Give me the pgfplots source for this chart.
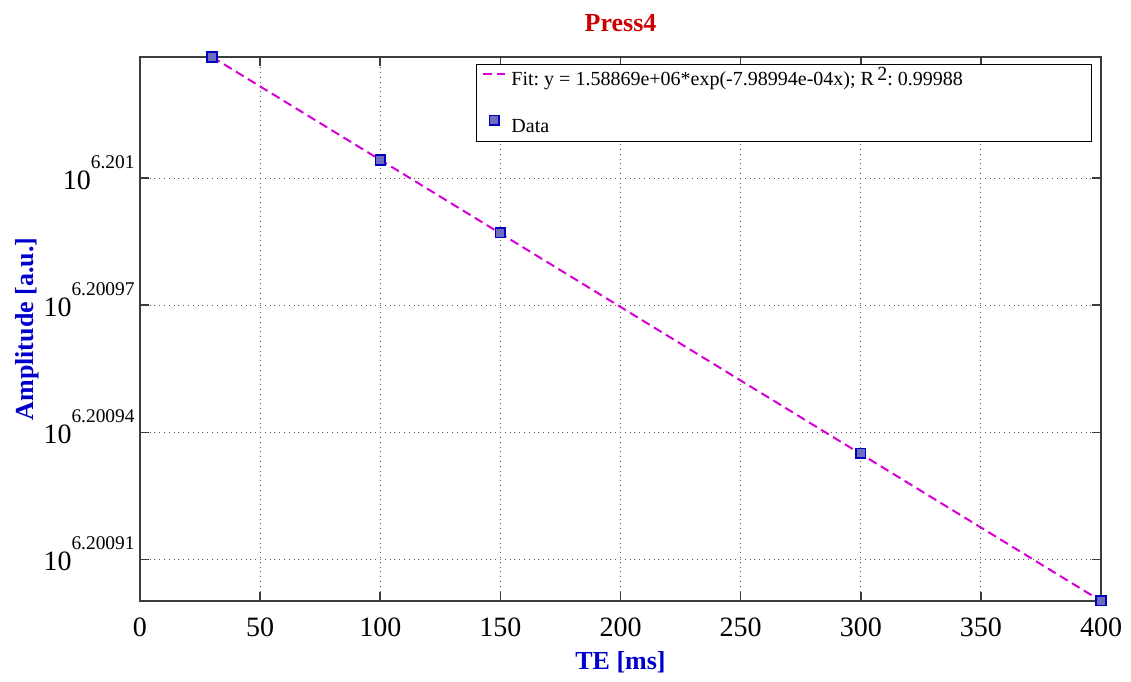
\documentclass[border=0pt]{standalone}
\usepackage{fontspec}
\setmainfont{Liberation Serif}
\usepackage{pgfplots}
\pgfplotsset{compat=1.18}
\definecolor{tred}{RGB}{204,0,0}
\definecolor{lblue}{RGB}{0,0,204}
\definecolor{fitmag}{RGB}{214,0,214}
\definecolor{mkfill}{RGB}{110,110,190}
\definecolor{mkedge}{RGB}{0,0,190}
\definecolor{axgray}{RGB}{60,60,60}
\frenchspacing
\newcommand{\yl}[1]{10\raisebox{10.5pt}{\fontsize{9.7}{9.7}\selectfont #1}}
\pgfplotsset{
  fitimg/.style={legend image code/.code={\draw[##1] (0pt,3pt) -- (11pt,3pt);}},
  dataimg/.style={legend image code/.code={\draw[##1] plot coordinates {(5.5pt,3pt)};}},
}
% y values are plotted as (log10(Amplitude) - 6.2009) * 1e5
\begin{document}
\begin{tikzpicture}
\begin{axis}[
  scale only axis, width=480.5pt, height=272pt,
  xmin=0, xmax=400, ymin=0.02, ymax=12.86,
  xtick={0,50,...,400},
  ytick={1,4,7,10},
  yticklabels={\yl{6.20091},\yl{6.20094},\yl{6.20097},\yl{6.201}},
  /pgf/number format/assume math mode=true,
  tick label style={font=\fontsize{14}{14}\selectfont},
  xticklabel style={anchor=base, inner sep=0pt, yshift=-17.5pt},
  yticklabel style={anchor=base east, inner sep=0pt, xshift=-2.5pt, yshift=-5.5pt},
  grid=major,
  major grid style={dotted, black!65, line width=0.5pt},
  axis line style={axgray, line width=0.8pt},
  tick style={axgray, line width=0.8pt},
  major tick length=4.5pt,
  title={Press4},
  every axis title shift=0pt,
  title style={font=\fontsize{13}{13}\selectfont\bfseries, color=tred, at={(0.5,1.046)}, anchor=base},
  xlabel={TE [ms]},
  xlabel style={font=\fontsize{13}{13}\selectfont\bfseries, color=lblue, at={(0.5,-0.1268)}, anchor=base},
  ylabel={Amplitude [a.u.]},
  ylabel style={font=\fontsize{13}{13}\selectfont\bfseries, color=lblue, at={(-0.1113,0.5)}, anchor=base},
  legend style={at={(0.9906,0.9871)}, anchor=north east, draw=black, line width=0.5pt, fill=white,
    font=\fontsize{10}{10}\selectfont, inner xsep=3pt, inner ysep=3pt, row sep=13.5pt, column sep=2.5pt,
    nodes={inner sep=0pt, text height=7.5pt, text depth=1.5pt}},
  legend cell align=left,
]
\addplot[fitmag, line width=1pt, dash pattern=on 4.5pt off 2.5pt, fitimg]
  coordinates {(30,12.86) (400,0.02)};
\addlegendentry{\makebox[287pt][l]{Fit: y = 1.58869e+06*exp(-7.98994e-04x); R\,\raisebox{0.6ex}{2}: 0.99988}}
\addplot[only marks, mark=square*, mark size=2.4pt,
  mark options={draw=mkedge, fill=mkfill, line width=0.8pt, solid}, dataimg]
  coordinates {(30,12.86) (100,10.43) (150,8.71) (300,3.51) (400,0.03)};
\addlegendentry{Data}
\end{axis}
\pgfresetboundingbox
\path[use as bounding box] (-70pt,-40pt) rectangle (495.5pt,300.5pt);
\end{tikzpicture}
\end{document}
